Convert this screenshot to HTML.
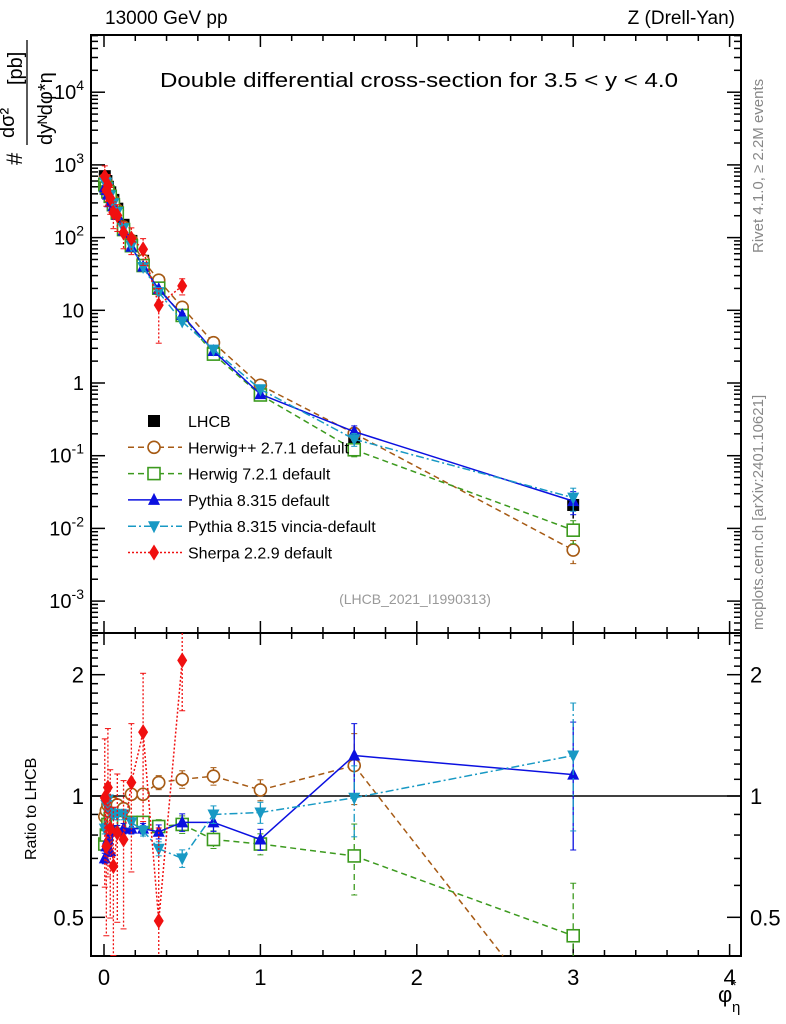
<!DOCTYPE html>
<html><head><meta charset="utf-8"><style>
html,body{margin:0;padding:0;background:#fff;width:786px;height:1024px;overflow:hidden;font-family:"Liberation Sans",sans-serif}
svg{display:block}
svg text{font-family:"Liberation Sans",sans-serif}
</style></head><body>
<svg id="c" width="786" height="1024" xmlns="http://www.w3.org/2000/svg"></svg>
<script>
const phi=[0.005,0.015,0.025,0.04,0.06,0.085,0.125,0.175,0.25,0.35,0.5,0.7,1.0,1.6,3.0];
const lhcb=[700,600,500,420,330,250,150,90,48,24,10,3.2,0.9,0.17,0.021];
const rHpp=[0.89,0.92,0.95,0.96,0.96,0.95,0.93,1.01,1.01,1.08,1.10,1.12,1.035,1.19,0.24];
const rH7=[0.76,0.80,0.85,0.88,0.86,0.87,0.86,0.86,0.86,0.84,0.85,0.78,0.76,0.71,0.45];
const rPy=[0.70,0.75,0.78,0.73,0.82,0.82,0.83,0.83,0.83,0.815,0.86,0.86,0.78,1.26,1.13];
const rVin=[0.83,0.95,0.98,0.91,0.90,0.90,0.90,0.86,0.82,0.74,0.70,0.90,0.91,0.99,1.26];
const rSh=[0.99,0.75,1.05,0.83,0.67,0.81,0.78,1.08,1.44,0.49,2.17];
const errRel=[0.03,0.03,0.03,0.03,0.03,0.03,0.03,0.03,0.03,0.04,0.05,0.05,0.06,0.2,0.35];
const errSh=[0.4,0.4,0.4,0.4,0.4,0.4,0.4,0.4,0.4,0.7,0.25];
const yTicksMain=[4,3,2,1,0,-1,-2,-3];
const rTicks=[0.5,1,2];
const S=document.getElementById('c');const NS='http://www.w3.org/2000/svg';
function el(t,a,p){const e=document.createElementNS(NS,t);for(const k in a)e.setAttribute(k,a[k]);(p||S).appendChild(e);return e;}
const L=91,R=741,T=35,M=633,B=956;
const X=v=>104+v*156.4;
const Y=v=>383-Math.log10(v)*72.7;
const YR=v=>796-Math.log10(v)*403;
let f1=el('rect',{x:L,y:T,width:R-L,height:M-T,fill:'none',stroke:'#000','stroke-width':2});

let f2=el('rect',{x:L,y:M,width:R-L,height:B-M,fill:'none',stroke:'#000','stroke-width':2});

for(let v=0;v<=4.0001;v+=0.2){const x=X(v);const big=Math.abs(v-Math.round(v))<1e-6;const l=big?12:6;
 [[M,-1],[T,1],[B,-1],[M,1]].forEach(([y0,d])=>el('line',{x1:x,x2:x,y1:y0,y2:y0+d*l,stroke:'#000','stroke-width':1.5}));
 if(big){const t=el('text',{x:x,y:985,'font-size':22,'text-anchor':'middle'});t.textContent=Math.round(v);
 }}
for(let e=-4;e<=4;e++){for(let m=1;m<10;m++){const v=m*Math.pow(10,e);const y=Y(v);if(y<T||y>M)continue;const l=m==1?14:7;
 el('line',{x1:L,x2:L+l,y1:y,y2:y,stroke:'#000','stroke-width':1.5});el('line',{x1:R,x2:R-l,y1:y,y2:y,stroke:'#000','stroke-width':1.5});}}
yTicksMain.forEach(e=>{const t=el('text',{x:84,y:Y(Math.pow(10,e))+7,'font-size':20,'text-anchor':'end'});
 
 if(e==1)t.textContent='10';else if(e==0)t.textContent='1';else{t.textContent='10';const s=el('tspan',{dy:-9,'font-size':14},t);s.textContent=e;}});
for(let v=0.4;v<=2.51;v+=0.1){const y=YR(v);if(y<M||y>B)continue;const big=[0.5,1,2].some(q=>Math.abs(q-v)<1e-6);const l=big?14:7;
 el('line',{x1:L,x2:L+l,y1:y,y2:y,stroke:'#000','stroke-width':1.5});el('line',{x1:R,x2:R-l,y1:y,y2:y,stroke:'#000','stroke-width':1.5});}
rTicks.forEach(v=>{const t=el('text',{x:84,y:YR(v)+8,'font-size':22,'text-anchor':'end'});t.textContent=v;
 
 const t2=el('text',{x:750,y:YR(v)+8,'font-size':22});t2.textContent=v;
 });
let one=el('line',{x1:L,x2:R,y1:YR(1),y2:YR(1),stroke:'#000','stroke-width':1.5});

function marker(g,type,x,y,col){let m;const s=6;
 if(type=='sq')m=el('rect',{x:x-s,y:y-s,width:2*s,height:2*s,fill:'#000'},g);
 else if(type=='osq')m=el('rect',{x:x-s,y:y-s,width:2*s,height:2*s,fill:'#fff',stroke:col,'stroke-width':1.6},g);
 else if(type=='oc')m=el('circle',{cx:x,cy:y,r:s,fill:'#fff',stroke:col,'stroke-width':1.6},g);
 else if(type=='up')m=el('polygon',{points:`${x},${y-7} ${x-6},${y+5} ${x+6},${y+5}`,fill:col},g);
 else if(type=='dn')m=el('polygon',{points:`${x},${y+7} ${x-6},${y-5} ${x+6},${y-5}`,fill:col},g);
 else m=el('polygon',{points:`${x},${y-8} ${x-5},${y} ${x},${y+8} ${x+5},${y}`,fill:col},g);
 }
const series=[
 {name:'herwigpp',r:rHpp,col:'#a65a14',dash:'6,4',type:'oc',err:errRel},
 {name:'herwig7',r:rH7,col:'#3c9a1e',dash:'6,4',type:'osq',err:errRel},
 {name:'pythia',r:rPy,col:'#0b10e0',dash:'',type:'up',err:errRel},
 {name:'vincia',r:rVin,col:'#1899c4',dash:'8,3,2,3',type:'dn',err:errRel},
 {name:'sherpa',r:rSh,col:'#f01010',dash:'2,2',type:'dm',err:errSh}];
const cl=(y,a,b)=>Math.max(a,Math.min(b,y));
function clipSeg(p,q,a,b){ // clip segment to y in [a,b]
 let [x1,y1]=p,[x2,y2]=q;
 if((y1<a&&y2<a)||(y1>b&&y2>b))return null;
 const f=(y)=>x1+(x2-x1)*(y-y1)/(y2-y1);
 if(y1<a){x1=f(a);y1=a}else if(y1>b){x1=f(b);y1=b}
 if(y2<a){x2=x1+(x2-x1)*0+ (q[0]-p[0])*(a-p[1])/(q[1]-p[1])+p[0]-x1;y2=a}
 else if(y2>b){x2=p[0]+(q[0]-p[0])*(b-p[1])/(q[1]-p[1]);y2=b}
 return [x1,y1,x2,y2];}
function drawSeries(s,ratio){
 const g=el('g',{});
 
 const a=ratio?M:T,b=ratio?B:M;
 const pts=s.r.map((r,i)=>{const v=ratio?r:r*lhcb[i];const F=ratio?YR:Y;return [X(phi[i]),F(v),F(v*(1+s.err[i])),F(Math.max(v*(1-s.err[i]),1e-6))];});
 for(let i=0;i+1<pts.length;i++){const c=clipSeg(pts[i],pts[i+1],a,b);if(!c)continue;
  el('line',{x1:c[0],y1:c[1],x2:c[2],y2:c[3],stroke:s.col,'stroke-width':1.5,'stroke-dasharray':s.dash},g);}
 pts.forEach(p=>{const y1=cl(p[2],a,b),y2=cl(p[3],a,b);if(y1==y2)return;
  el('line',{x1:p[0],x2:p[0],y1:y1,y2:y2,stroke:s.col,'stroke-width':1.3,'stroke-dasharray':s.dash},g);
  if(p[2]>a)el('line',{x1:p[0]-3,x2:p[0]+3,y1:p[2],y2:p[2],stroke:s.col},g);
  if(p[3]<b)el('line',{x1:p[0]-3,x2:p[0]+3,y1:p[3],y2:p[3],stroke:s.col},g);});
 pts.forEach(p=>{if(p[1]>a+4&&p[1]<b-4)marker(g,s.type,p[0],p[1],s.col);});}
const gd=el('g',{});
lhcb.forEach((v,i)=>{const x=X(phi[i]);el('line',{x1:x,x2:x,y1:Y(v*(1+errRel[i])),y2:Y(v*(1-errRel[i])),stroke:'#000','stroke-width':1.5},gd);marker(gd,'sq',x,Y(v));});
series.forEach(s=>{drawSeries(s,false);drawSeries(s,true);});
const leg=[['LHCB','#000','','sq'],['Herwig++ 2.7.1 default','#a65a14','6,4','oc'],['Herwig 7.2.1 default','#3c9a1e','6,4','osq'],['Pythia 8.315 default','#0b10e0','','up'],['Pythia 8.315 vincia-default','#1899c4','8,3,2,3','dn'],['Sherpa 2.2.9 default','#f01010','2,2','dm']];
leg.forEach((l,i)=>{const y=421+i*26.3;const g=el('g',{});
 if(i>0)el('line',{x1:128,x2:182,y1:y,y2:y,stroke:l[1],'stroke-width':1.5,'stroke-dasharray':l[2]},g);
 marker(g,l[3],154,y,l[1]);const t=el('text',{x:188,y:y+6,'font-size':16},g);t.textContent=l[0];});
function txt(x,y,s,str,attrs,name){const t=el('text',Object.assign({x:x,y:y,'font-size':s},attrs||{}));t.textContent=str;return t;}
txt(105,24,19,'13000 GeV pp',{},'energy-label');
txt(735,24,19,'Z (Drell-Yan)',{'text-anchor':'end'},'process-label');
txt(160,87,20,'Double differential cross-section for 3.5 < y < 4.0',{textLength:518,lengthAdjust:'spacingAndGlyphs'},'plot-title');
txt(415,604,14,'(LHCB_2021_I1990313)',{'text-anchor':'middle',fill:'#999'},'analysis-id');
txt(763,630,15,'mcplots.cern.ch [arXiv:2401.10621]',{transform:'rotate(-90 763 630)',fill:'#888'},'source-label');
txt(763,253,15,'Rivet 4.1.0, \u2265 2.2M events',{transform:'rotate(-90 763 253)',fill:'#888'},'rivet-label');
txt(36,860,16,'Ratio to LHCB',{transform:'rotate(-90 36 860)'},'ratio-y-axis-title');
txt(22,165,22,'#',{transform:'rotate(-90 22 165)'},'y-axis-title-hash');
el('line',{x1:27,x2:27,y1:145,y2:40,stroke:'#000','stroke-width':1.3});
txt(14,138,20,'d\u03c3\u00b2',{transform:'rotate(-90 14 138)'},'y-axis-title-num');
txt(52,145,20,'dy\u1d3ad\u03c6*\u03b7',{transform:'rotate(-90 52 145)'},'y-axis-title-den');
txt(22,85,20,'[pb]',{transform:'rotate(-90 22 85)'},'y-axis-title-unit');
txt(718,1002,22,'\u03c6',{},'x-axis-title');txt(732,1012,15,'\u03b7',{},'x-axis-title-sub');txt(731,990,14,'*',{},'x-axis-title-star');
</script>
</body></html>
